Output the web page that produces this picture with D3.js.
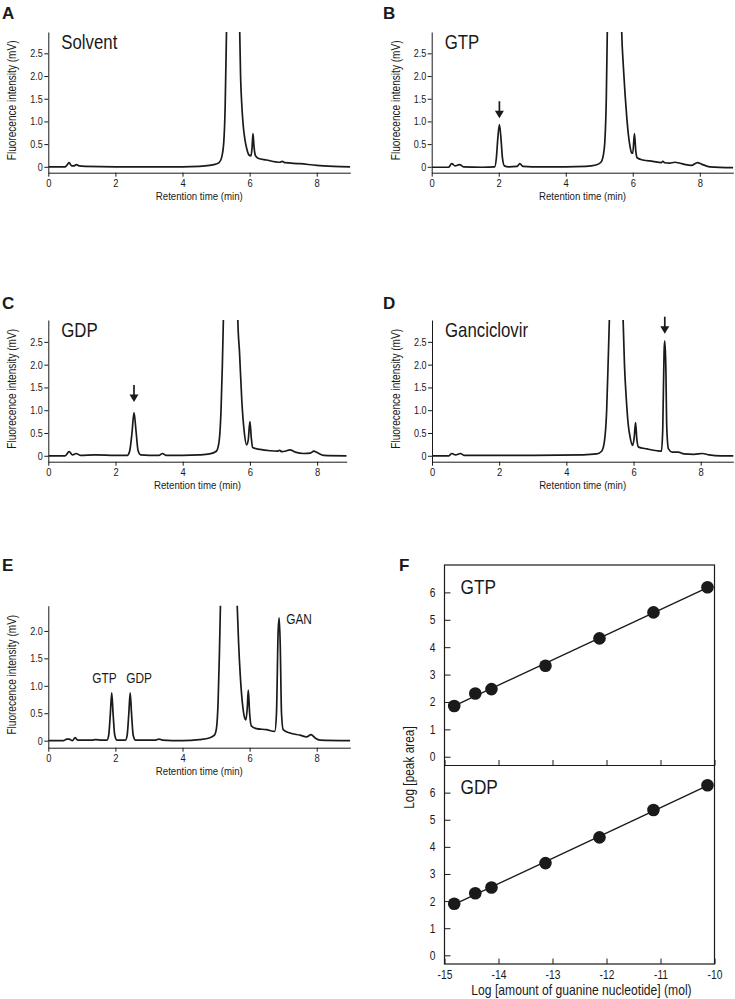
<!DOCTYPE html>
<html><head><meta charset="utf-8">
<script src="https://cdn.jsdelivr.net/npm/d3@7"></script>
<style>
body{margin:0;background:#fff;}
svg{display:block;font-family:"Liberation Sans",Arial,Helvetica,sans-serif;}
</style></head><body>
<svg id="fig" width="735" height="999"></svg>
<script>
// ---------------- DATA ----------------
const timeTicks = [0, 2, 4, 6, 8];
const intensityTicks = [0, 0.5, 1.0, 1.5, 2.0, 2.5];
const intensityTicksE = [0, 0.5, 1.0, 1.5, 2.0];

// chromatogram traces: [retention time (min), fluorescence (mV)]
const traceSolvent = [[0,0],[0.5,0],[0.55,0.03],[0.62,0.09],[0.7,0.02],[0.76,0.02],[0.84,0.05],[0.92,0.02],[1.1,0.01],[2,0.0],[3,0.0],[4,0.0],[4.5,0.01],[4.8,0.03],[5.0,0.06],[5.1,0.1],[5.17,0.22],[5.23,0.55],[5.27,1.3],[5.31,2.97],[5.4,7],[5.5,10],[5.62,7],[5.705,2.97],[5.73,2.0],[5.76,1.45],[5.81,0.9],[5.86,0.6],[5.92,0.38],[5.98,0.26],[6.04,0.24],[6.07,0.4],[6.1,0.73],[6.13,0.45],[6.17,0.25],[6.25,0.19],[6.5,0.15],[6.9,0.1],[6.97,0.12],[7.05,0.09],[7.5,0.07],[8.0,0.03],[8.5,0.01],[9.0,0.0]];

const traceGTP = [[0,-0.01],[0.5,-0.01],[0.6,0.07],[0.7,0.02],[0.83,0.05],[0.95,0.0],[1.5,-0.01],[1.88,0.0],[1.93,0.2],[1.97,0.6],[2.02,0.93],[2.07,0.6],[2.11,0.2],[2.17,0.02],[2.3,0.0],[2.55,0.01],[2.63,0.07],[2.72,0.01],[3,0],[4,0],[4.6,0.01],[4.9,0.04],[5.05,0.1],[5.12,0.25],[5.17,0.6],[5.21,1.5],[5.24,2.97],[5.32,6],[5.45,9],[5.6,6],[5.67,2.97],[5.72,2.2],[5.77,1.6],[5.82,1.1],[5.87,0.7],[5.92,0.44],[5.97,0.3],[6.0,0.3],[6.05,0.73],[6.09,0.35],[6.13,0.2],[6.3,0.15],[6.6,0.12],[6.85,0.09],[6.9,0.12],[6.95,0.09],[7.1,0.08],[7.25,0.1],[7.45,0.07],[7.75,0.03],[7.93,0.09],[8.05,0.06],[8.3,0.0],[9,-0.02]];

const traceGDP = [[0,0],[0.5,0],[0.62,0.09],[0.72,0.02],[0.83,0.05],[0.95,0.01],[1.4,0.02],[2.0,0.01],[2.35,0.01],[2.42,0.1],[2.49,0.5],[2.55,0.95],[2.61,0.55],[2.67,0.12],[2.75,0.02],[3.0,0.01],[3.3,0.01],[3.4,0.05],[3.5,0.01],[4.0,0.01],[4.5,0.02],[4.8,0.04],[5.0,0.1],[5.08,0.3],[5.14,1.0],[5.18,2.0],[5.21,2.98],[5.3,7],[5.45,9],[5.58,6],[5.64,2.98],[5.69,2.28],[5.76,1.19],[5.83,0.53],[5.9,0.24],[5.95,0.35],[6.0,0.75],[6.04,0.4],[6.08,0.18],[6.3,0.14],[6.6,0.11],[6.82,0.1],[6.88,0.12],[6.95,0.09],[7.05,0.1],[7.19,0.13],[7.35,0.08],[7.6,0.05],[7.8,0.06],[7.9,0.1],[8.0,0.07],[8.2,0.01],[8.88,0.0]];

const traceGanciclovir = [[0,0],[0.5,0],[0.59,0.05],[0.7,0.02],[0.85,0.05],[0.95,0.01],[1.5,0.01],[3,0.01],[4.5,0.02],[4.9,0.04],[5.05,0.1],[5.13,0.3],[5.2,1.0],[5.25,2.2],[5.28,2.98],[5.4,8],[5.58,6],[5.69,2.98],[5.73,2.0],[5.78,1.3],[5.84,0.7],[5.9,0.4],[5.97,0.23],[6.02,0.4],[6.06,0.73],[6.1,0.35],[6.15,0.19],[6.4,0.15],[6.7,0.11],[6.83,0.1],[6.87,0.6],[6.91,2.3],[6.93,2.52],[6.96,2.0],[6.99,0.6],[7.04,0.15],[7.15,0.08],[7.33,0.08],[7.5,0.04],[7.8,0.03],[8.05,0.05],[8.25,0.02],[8.6,0.0],[9,0]];

const traceMixture = [[0,0],[0.45,0],[0.55,0.03],[0.62,0.03],[0.72,0.0],[0.8,0.055],[0.88,0.01],[1.3,0.01],[1.4,0.02],[1.6,0.01],[1.75,0.01],[1.8,0.1],[1.85,0.5],[1.89,0.87],[1.93,0.5],[1.98,0.1],[2.05,0.01],[2.3,0.01],[2.35,0.1],[2.4,0.5],[2.44,0.87],[2.48,0.5],[2.53,0.1],[2.6,0.01],[3.2,0.01],[3.3,0.03],[3.4,0.01],[4.0,0.0],[4.5,0.02],[4.8,0.05],[4.95,0.1],[5.01,0.22],[5.06,0.7],[5.1,1.6],[5.13,2.46],[5.25,6],[5.45,6],[5.58,3.2],[5.63,2.46],[5.67,1.8],[5.72,1.2],[5.8,0.6],[5.86,0.4],[5.89,0.38],[5.93,0.6],[5.96,0.92],[6.0,0.5],[6.05,0.27],[6.2,0.22],[6.5,0.2],[6.75,0.17],[6.8,0.5],[6.85,2.0],[6.88,2.24],[6.91,1.8],[6.95,0.5],[7.0,0.2],[7.2,0.14],[7.5,0.1],[7.7,0.07],[7.83,0.11],[7.95,0.05],[8.1,0.01],[9,0]];

// arrow tips [time, intensity]
const arrowsGTP = [[2.02, 1.07]];
const arrowsGDP = [[2.55, 1.18]];
const arrowsGanciclovir = [[6.93, 2.68]];

// peak labels in panel E
const peakLabelNames = ["GTP", "GDP", "GAN"];
const peakLabelTimes = [1.89, 2.44, 6.88];
const peakLabelHeights = [0.88, 0.88, 2.24];

// panel F: standard curves
const logAmount = [-14.82, -14.43, -14.13, -13.13, -12.13, -11.13, -10.13];
const logAreaGTP = [1.85, 2.31, 2.47, 3.32, 4.32, 5.27, 6.19];
const logAreaGDP = [1.90, 2.29, 2.50, 3.40, 4.35, 5.36, 6.27];
const xTicksF = [-15, -14, -13, -12, -11, -10];
const yTicksF = [0, 1, 2, 3, 4, 5, 6];

// ---------------- DRAWING ----------------
const svg = d3.select("#fig");
const NARROW = 0.82;
const INK = "#1a1a1a";
const FONT = '"Liberation Sans", Arial, Helvetica, sans-serif';

function txt(g, x, y, str, size, opts = {}) {
  let tr = `translate(${x},${y})`;
  if (opts.rotate) tr += ` rotate(${opts.rotate})`;
  if (opts.narrow !== false) tr += ` scale(${NARROW},1)`;
  return g.append("text")
    .attr("transform", tr)
    .attr("font-size", size)
    .attr("text-anchor", opts.anchor || "start")
    .attr("font-weight", opts.weight || "normal")
    .attr("fill", INK)
    .text(str);
}

function styleAxis(a, size) {
  a.attr("font-family", FONT).attr("font-size", size);
  a.selectAll("path,line").attr("stroke", INK).attr("stroke-width", 1);
  a.selectAll(".tick text").attr("fill", INK).each(function () {
    const s = d3.select(this);
    const x = +s.attr("x") || 0;
    s.attr("x", x / NARROW).attr("transform", `scale(${NARROW},1)`);
  });
}

function chrom(cfg) {
  const g = svg.append("g");
  const x = d3.scaleLinear().domain([0, cfg.tMax]).range([cfg.left, cfg.right]);
  const y = d3.scaleLinear().domain(cfg.vDomain).range([cfg.bottom, cfg.top]);
  const clipId = "clip" + cfg.letter;
  svg.append("clipPath").attr("id", clipId).append("rect")
    .attr("x", cfg.left).attr("y", cfg.top)
    .attr("width", cfg.right - cfg.left).attr("height", cfg.bottom - cfg.top);

  const line = d3.line().x(d => x(d[0])).y(d => y(d[1])).curve(d3.curveMonotoneX);
  g.append("path").datum(cfg.trace).attr("d", line)
    .attr("fill", "none").attr("stroke", INK).attr("stroke-width", 1.7)
    .attr("stroke-linejoin", "round").attr("clip-path", `url(#${clipId})`);

  const gx = g.append("g").attr("transform", `translate(0,${cfg.bottom})`)
    .call(d3.axisBottom(x).tickValues(timeTicks).tickSize(4).tickPadding(2).tickSizeOuter(0).tickFormat(d3.format("d")));
  styleAxis(gx, 11.5);
  const gy = g.append("g").attr("transform", `translate(${cfg.left},0)`)
    .call(d3.axisLeft(y).tickValues(cfg.yTicks).tickSize(4).tickPadding(1.5).tickSizeOuter(0)
      .tickFormat(d => d === 0 ? "0" : d.toFixed(1)));
  styleAxis(gy, 11);

  txt(g, cfg.left - 32, (cfg.top + cfg.bottom) / 2 - 2, "Fluorecence intensity (mV)", 12.3, { rotate: -90, anchor: "middle" });
  txt(g, (cfg.left + cfg.right) / 2, cfg.bottom + 27.5, "Retention time (min)", 11.8, { anchor: "middle" });
  txt(g, cfg.letterX, cfg.letterY, cfg.letter, 17, { weight: "bold", narrow: false });
  if (cfg.title) txt(g, cfg.left + 13, cfg.top + 17, cfg.title, 20.5);

  (cfg.arrows || []).forEach(a => {
    const ax = x(a[0]), ay = y(a[1]);
    g.append("line").attr("x1", ax).attr("x2", ax).attr("y1", ay - 17).attr("y2", ay - 6)
      .attr("stroke", INK).attr("stroke-width", 1.7);
    g.append("path").attr("d", `M${ax - 4.5},${ay - 7.5}L${ax + 4.5},${ay - 7.5}L${ax},${ay}Z`).attr("fill", INK);
  });
  if (cfg.peakLabels) {
    cfg.peakLabels.forEach((p, i) => {
      const px = x(p.t), py = y(p.v);
      if (i === 0) txt(g, px + 5, py - 9, p.name, 14.5, { anchor: "end" });
      else if (i === 1) txt(g, px - 4, py - 9, p.name, 14.5, { anchor: "start" });
      else txt(g, px + 7, py + 6, p.name, 14.5, { anchor: "start" });
    });
  }
}

chrom({ letter: "A", letterX: 2, letterY: 18.5, title: "Solvent", trace: traceSolvent,
  left: 48.3, right: 350.3, top: 32, bottom: 172.7, tMax: 9, vDomain: [-0.13, 2.97], yTicks: intensityTicks });
chrom({ letter: "B", letterX: 383, letterY: 18.5, title: "GTP", trace: traceGTP, arrows: arrowsGTP,
  left: 431.7, right: 733.3, top: 32, bottom: 172.7, tMax: 9, vDomain: [-0.13, 2.97], yTicks: intensityTicks });
chrom({ letter: "C", letterX: 2, letterY: 308.5, title: "GDP", trace: traceGDP, arrows: arrowsGDP,
  left: 48.3, right: 346.7, top: 320, bottom: 461.7, tMax: 8.88, vDomain: [-0.13, 2.98], yTicks: intensityTicks });
chrom({ letter: "D", letterX: 383, letterY: 308.5, title: "Ganciclovir", trace: traceGanciclovir, arrows: arrowsGanciclovir,
  left: 432, right: 733.3, top: 320, bottom: 461.7, tMax: 8.97, vDomain: [-0.13, 2.98], yTicks: intensityTicks });
chrom({ letter: "E", letterX: 2, letterY: 571, title: null, trace: traceMixture,
  peakLabels: peakLabelNames.map((n, i) => ({ name: n, t: peakLabelTimes[i], v: peakLabelHeights[i] })),
  left: 48.3, right: 350.3, top: 605.7, bottom: 747.7, tMax: 9, vDomain: [-0.128, 2.46], yTicks: intensityTicksE });

// ---------- Panel F ----------
(function () {
  const g = svg.append("g");
  const L = 444.5, R = 714.5, T = 565, M = 765.5, B = 964;
  const x = d3.scaleLinear().domain([-15, -10]).range([L, R]);
  const yTop = d3.scaleLinear().domain([-0.32, 7.0]).range([M, T]);
  const yBot = d3.scaleLinear().domain([-0.32, 7.0]).range([B, M]);

  function fit(xs, ys) {
    const mx = d3.mean(xs), my = d3.mean(ys);
    let num = 0, den = 0;
    xs.forEach((v, i) => { num += (v - mx) * (ys[i] - my); den += (v - mx) ** 2; });
    const b = num / den;
    return v => my + b * (v - mx);
  }

  function section(y, ys, name, showXLabels, bottomY, topY) {
    const f = fit(logAmount, ys);
    const x0 = d3.min(logAmount), x1 = d3.max(logAmount);
    g.append("line").attr("x1", x(x0)).attr("y1", y(f(x0))).attr("x2", x(x1)).attr("y2", y(f(x1)))
      .attr("stroke", INK).attr("stroke-width", 1.4);
    g.selectAll(null).data(logAmount).enter().append("circle")
      .attr("cx", d => x(d)).attr("cy", (d, i) => y(ys[i])).attr("r", 6.3).attr("fill", INK);

    const gy = g.append("g").attr("transform", `translate(${L},0)`)
      .call(d3.axisLeft(y).tickValues(yTicksF).tickSize(-6).tickPadding(9).tickSizeOuter(0).tickFormat(d3.format("d")));
    gy.select(".domain").remove();
    styleAxis(gy, 12.5);
    const gx = g.append("g").attr("transform", `translate(0,${bottomY})`)
      .call(d3.axisBottom(x).tickValues(xTicksF).tickSize(-5.5).tickPadding(6).tickSizeOuter(0)
        .tickFormat(d => showXLabels ? String(d) : ""));
    gx.select(".domain").remove();
    styleAxis(gx, 12.5);
    txt(g, L + 16, topY + 28.5, name, 21);
  }
  section(yTop, logAreaGTP, "GTP", false, M, T);
  section(yBot, logAreaGDP, "GDP", true, B, M);

  // frame
  g.append("rect").attr("x", L).attr("y", T).attr("width", R - L).attr("height", B - T)
    .attr("fill", "none").attr("stroke", INK).attr("stroke-width", 1.2);
  g.append("line").attr("x1", L).attr("x2", R).attr("y1", M).attr("y2", M).attr("stroke", INK).attr("stroke-width", 1.2);

  txt(g, 414, (M + 2), "Log [peak area]", 14.5, { rotate: -90, anchor: "middle" });
  txt(g, (L + R) / 2 + 2, 995, "Log [amount of guanine nucleotide] (mol)", 14.8, { anchor: "middle" });
  txt(g, 399, 571, "F", 17, { weight: "bold", narrow: false });
})();
</script>
</body></html>
